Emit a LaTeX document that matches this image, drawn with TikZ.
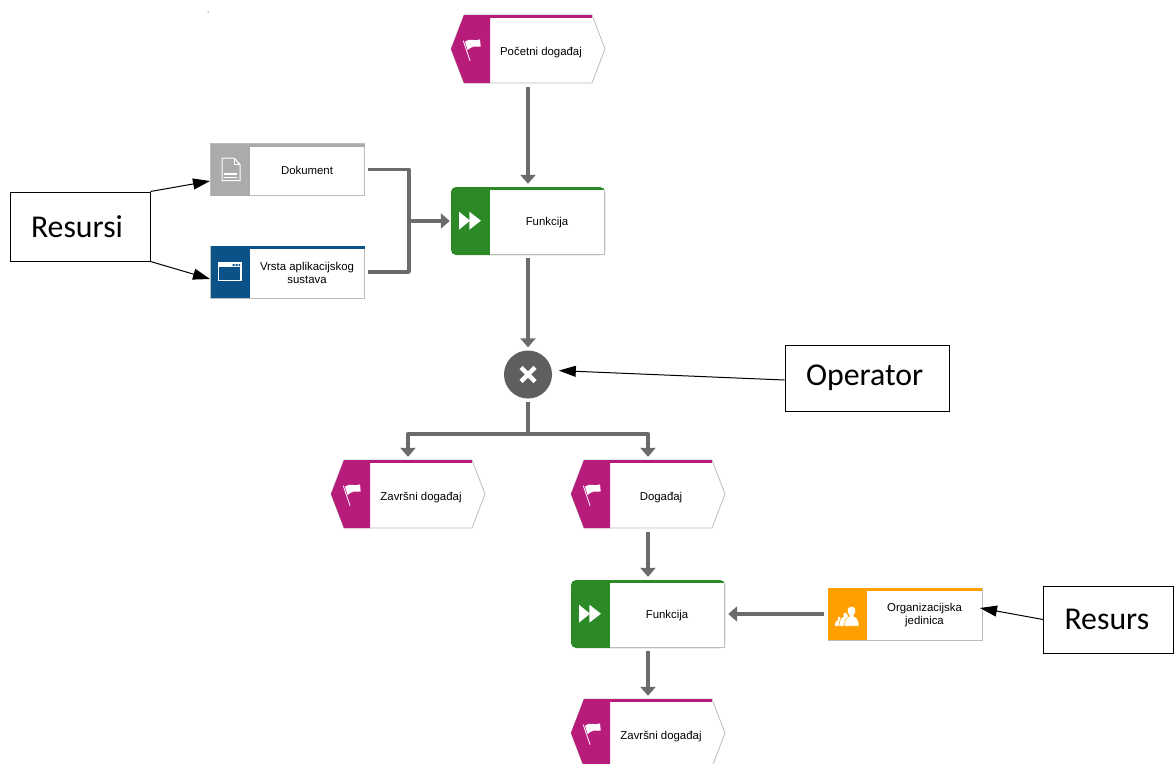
\documentclass[tikz,border=0pt]{standalone}
\usepackage{fontspec}
\setmainfont{Liberation Sans}
\newfontfamily\calloutfont{Carlito}
\usetikzlibrary{arrows.meta}
\definecolor{eventcol}{HTML}{B81C7A}
\definecolor{funccol}{HTML}{2B8A26}
\definecolor{doccol}{HTML}{ABABAB}
\definecolor{appcol}{HTML}{0B5288}
\definecolor{orgcol}{HTML}{FFA000}
\definecolor{linkcol}{HTML}{6B6B6B}
\definecolor{opcol}{HTML}{5F5F5F}
\definecolor{edgecol}{HTML}{BDBDBD}
\tikzset{
anchorbox/.style={inner sep=0pt,minimum width=154pt,minimum height=#1},
boxlabel/.style={inner sep=0pt,align=center,font=\fontsize{11.4}{13.5}\selectfont},
callout/.style={draw,line width=1pt,inner xsep=21pt,inner ysep=0pt,align=left,text width=#1,font=\calloutfont\fontsize{31.8}{34}\selectfont},
link/.style={draw=linkcol,line width=3.4pt,line join=round},
flow/.style={link,-{Triangle[length=9pt,width=15pt]}},
pointer/.style={draw=black,line width=1pt,-{Triangle[length=17pt,width=11pt]}}
}
\newcommand{\flagicon}{
\draw[white,line width=.8pt] (-64.7,-8.3) -- (-58,11.7);
\fill[white] (-63,-7.3) .. controls (-60,-9) and (-58,-10) .. (-56.3,-9.2) .. controls (-53,-8) and (-50,-9) .. (-48,-9.7) -- (-47.3,-2.3) .. controls (-50,-1.5) and (-52,-3) .. (-54.7,-2.3) .. controls (-57,-2) and (-59,0) .. (-60.3,1) -- cycle;
}
\newcommand{\fwdicon}{
\fill[white] (-69,-9.3) -- (-58,-.3) -- (-69,8.7) -- cycle;
\fill[white] (-58.7,-9.3) -- (-47,-.3) -- (-58.7,8.7) -- cycle;
}
\newcommand{\docicon}{
\draw[white,line width=1pt] (-65.5,-11.5) -- (-53.5,-11.5) -- (-47.5,-5) -- (-47.5,11) -- (-65.5,11) -- cycle;
\draw[white,line width=.8pt] (-53.5,-11.5) -- (-53.5,-5) -- (-47.5,-5);
\draw[white,line width=1.2pt] (-63.5,4.5) -- (-50.5,4.5) (-63.5,8) -- (-50.5,8);
}
\newcommand{\winicon}{
\draw[white,line width=1.1pt] (-69,-9) rectangle (-46.5,8.5);
\fill[white] (-69,-9.3) rectangle (-46.5,-4.8);
\fill[appcol] (-55,-8) rectangle (-53,-6) (-52,-8) rectangle (-50,-6) (-49,-8) rectangle (-47.5,-6);
}
\newcommand{\orgicon}{
\draw[fill=white,draw=orgcol,line width=.5pt] (-70.5,12) .. controls (-70.5,8) and (-68.5,6) .. (-67,5.5) .. controls (-69,2) and (-65,1) .. (-64,4) -- (-62,12) -- cycle;
\draw[fill=white,draw=orgcol,line width=.5pt] (-66,12) .. controls (-66,6) and (-63.5,3) .. (-61.5,2.5) .. controls (-64,-2) and (-58,-3) .. (-57,1) -- (-55,12) -- cycle;
\draw[fill=white,draw=orgcol,line width=.5pt] (-60.5,12) .. controls (-60.5,5) and (-58,3) .. (-55.5,2) .. controls (-59,-3) and (-58.5,-7.5) .. (-53.5,-7.5) .. controls (-48.5,-7.5) and (-48,-3) .. (-51.5,2) .. controls (-49,3) and (-46,5) .. (-46,12) -- cycle;
}
\newcommand{\eventnode}[4]{
\node[anchorbox=68pt] (#1) at (#2,#3) {};
\begin{scope}[shift={(#2,#3)}]
\draw[fill=white,draw=edgecol,line width=.8pt] (-64,-34) -- (64,-34) -- (77,0) -- (64,34) -- (-64,34) -- (-77,0) -- cycle;
\fill[eventcol] (-64,-34) -- (-38,-34) -- (-38,34) -- (-64,34) -- (-77,0) -- cycle;
\fill[eventcol] (-64,-34) rectangle (64,-31);
\flagicon
\node[boxlabel] (#1label) at (13,4) {#4};
\end{scope}
}
\newcommand{\funcnode}[4]{
\node[anchorbox=68pt] (#1) at (#2,#3) {};
\begin{scope}[shift={(#2,#3)}]
\fill[funccol,rounded corners=5pt] (-77,-34) rectangle (77,34);
\fill[white] (-38,-31) rectangle (77,34);
\draw[edgecol,line width=.8pt] (76.6,-31) -- (76.6,33.6) -- (-38,33.6);
\fwdicon
\node[boxlabel] (#1label) at (19,2) {#4};
\end{scope}
}
\newcommand{\resnode}[6]{
\node[anchorbox=52pt] (#1) at (#2,#3) {};
\begin{scope}[shift={(#2,#3)}]
\draw[fill=white,draw=edgecol,line width=.8pt] (-77,-26) rectangle (77,26);
\fill[#4] (-77,-26) rectangle (-38,26);
\fill[#4] (-77,-26) rectangle (77,-23);
#5
\node[boxlabel] (#1label) at (19.5,1) {#6};
\end{scope}
}
\begin{document}
\begin{tikzpicture}[x=1pt,y=-1pt]
\useasboundingbox (0,0) rectangle (1174,763);
\clip (0,0) rectangle (1174,763);
\fill (208,12) circle (.5);
\eventnode{start}{528}{49}{Početni događaj}
\funcnode{func}{528}{221}{Funkcija}
\resnode{doc}{287.5}{169.5}{doccol}{\docicon}{Dokument}
\resnode{app}{287.5}{272}{appcol}{\winicon}{Vrsta aplikacijskog\\sustava}
\node[circle,fill=opcol,minimum size=48pt,inner sep=0pt] (xor) at (528,374.5) {};
\draw[white,line width=4.5pt] (521,367.5) -- (535,381.5) (535,367.5) -- (521,381.5);
\eventnode{endleft}{408}{494}{Završni događaj}
\eventnode{event}{648}{494}{Događaj}
\funcnode{funcb}{648}{614}{Funkcija}
\resnode{org}{905}{614}{orgcol}{\orgicon}{Organizacijska\\jedinica}
\eventnode{endright}{648}{733}{Završni događaj}
\node[callout=98pt,minimum height=69pt] (resursi) at (80,226.5) {Resursi};
\node[callout=122pt,minimum height=66pt] (oper) at (867,378) {Operator};
\node[callout=88pt,minimum height=67pt] (resurs) at (1108.5,619.5) {Resurs};
\coordinate (join) at (409,221);
\coordinate (split) at (528,434);
\coordinate (docin) at (210,181);
\coordinate (appin) at (210,279);
\coordinate (orgin) at (980,608);
\draw[flow,shorten <=4pt,shorten >=3pt] (start) -- (func);
\draw[link,shorten <=3pt] (doc.east) -| (join);
\draw[link,shorten <=3pt] (app.east) -| (join);
\draw[flow,shorten >=1pt] (join) -- (func.west);
\draw[flow,shorten <=3pt,shorten >=3pt] (func) -- (xor);
\draw[link,shorten <=3pt] (xor) -- (split);
\draw[flow,shorten >=3pt] (split) -| (endleft.north);
\draw[flow,shorten >=3pt] (split) -| (event.north);
\draw[flow,shorten <=4pt,shorten >=3pt] (event) -- (funcb);
\draw[flow,shorten <=3pt,shorten >=3pt] (funcb) -- (endright);
\draw[flow,shorten <=4pt,shorten >=3pt] (org) -- (funcb);
\draw[pointer] (resursi.north east) -- (docin);
\draw[pointer] (resursi.south east) -- (appin);
\draw[pointer,shorten >=7pt] ([yshift=-2pt]oper.west) -- (xor.10);
\draw[pointer] (resurs.west) -- (orgin);
\end{tikzpicture}
\end{document}
